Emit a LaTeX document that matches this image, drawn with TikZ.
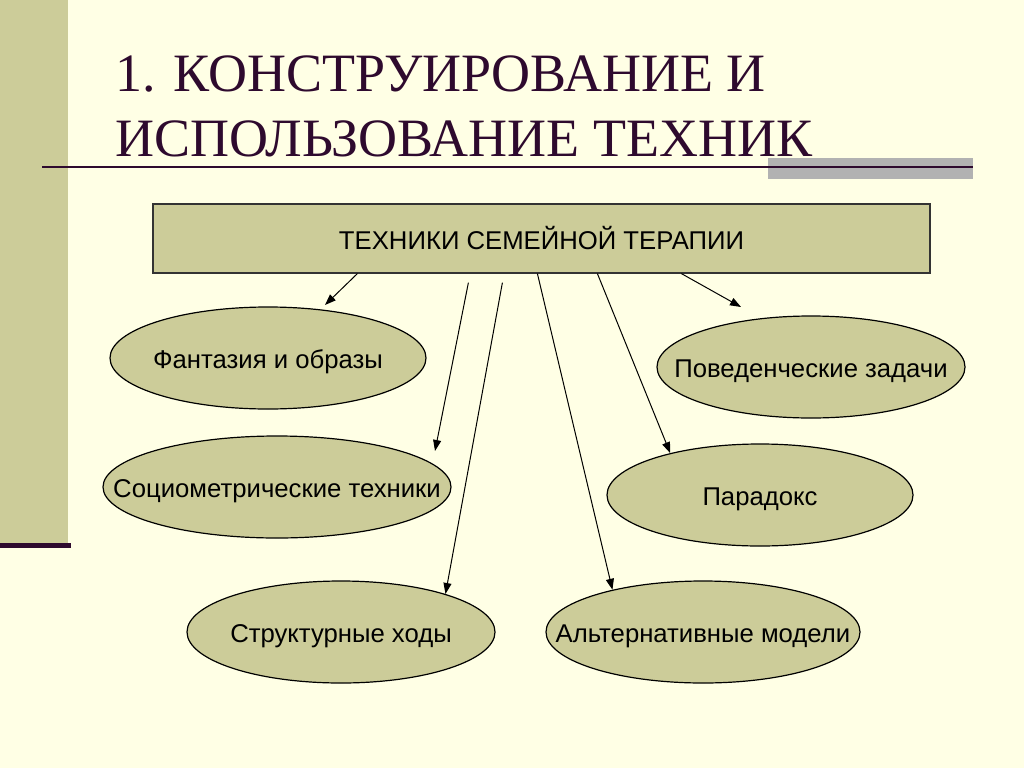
\documentclass[tikz,border=0pt]{standalone}
\usepackage{fontspec}
\setmainfont{Liberation Sans}
\newfontfamily\titlefont{Liberation Serif}
\usetikzlibrary{shapes.geometric,arrows.meta,calc}
\definecolor{bgcream}{RGB}{255,255,229}
\definecolor{olive}{RGB}{204,204,153}
\definecolor{darkplum}{RGB}{46,10,46}
\definecolor{grayband}{RGB}{178,178,178}
\begin{document}
\begin{tikzpicture}[x=1pt,y=-1pt,
  oval/.style={ellipse,draw=black,line width=1.2pt,fill=olive,inner sep=0pt,
    minimum height=102pt},
  ovaltext/.style={label={[font=\fontsize{25.7}{30}\selectfont,inner sep=0pt,yshift=-4pt]center:#1}},
  topbox/.style={rectangle,draw=black!80,line width=1.2pt,fill=olive,inner sep=0pt,
    minimum width=777pt,minimum height=69pt,font=\fontsize{25.7}{30}\selectfont},
  conn/.style={line width=1pt,-{Triangle[length=11pt,width=8pt]}},
  titletext/.style={anchor=base west,inner sep=0pt,text=darkplum,
    font=\titlefont\fontsize{54}{62}\selectfont}]
\useasboundingbox (0,0) rectangle (1024,768);
\fill[bgcream] (0,0) rectangle (1024,768);
% left panel and decorations
\fill[olive] (0,0) rectangle (68,543);
\fill[darkplum] (0,543) rectangle (71,548);
\fill[grayband] (768,158) rectangle (973,179);
\draw[darkplum,line width=2.6pt] (42,167) -- (973,167);
% title
\node[titletext] (t1) at (115,91) {1. КОНСТРУИРОВАНИЕ И};
\node[titletext] (t2) at (115,156) {ИСПОЛЬЗОВАНИЕ ТЕХНИК};
% main box
\node[topbox] (box) at (541.5,238.5) {ТЕХНИКИ СЕМЕЙНОЙ ТЕРАПИИ};
% ellipses
\node[oval,minimum width=316pt,ovaltext={Фантазия и образы}] (e1) at (268,358) {};
\node[oval,minimum width=348pt,ovaltext={Социометрические техники}] (e2) at (277,487) {};
\node[oval,minimum width=308pt,ovaltext={Структурные ходы}] (e3) at (341,632) {};
\node[oval,minimum width=308pt,ovaltext={Поведенческие задачи}] (e4) at (811,367) {};
\node[oval,minimum width=306pt,ovaltext={Парадокс}] (e5) at (760,495) {};
\node[oval,minimum width=314pt,ovaltext={Альтернативные модели}] (e6) at (703,632) {};
% connector ends
\coordinate (s1) at ($(box.south west)+(205,0)$);
\coordinate (s2) at ($(box.south west)+(316,9)$);
\coordinate (s3) at ($(box.south west)+(350,9)$);
\coordinate (s4) at ($(box.south west)+(385,0)$);
\coordinate (s5) at ($(box.south west)+(445,0)$);
\coordinate (s6) at ($(box.south west)+(529,0)$);
\coordinate (a1) at (325,305);
\coordinate (a2) at (435,451);
\coordinate (a6) at (741,307);
\draw[conn] (s1) -- (a1);
\draw[conn] (s2) -- (a2);
\draw[conn] (s3) -- (e3.20);
\draw[conn] (s4) -- (e6.155);
\draw[conn] (s5) -- (e5.155);
\draw[conn] (s6) -- (a6);
\end{tikzpicture}
\end{document}
